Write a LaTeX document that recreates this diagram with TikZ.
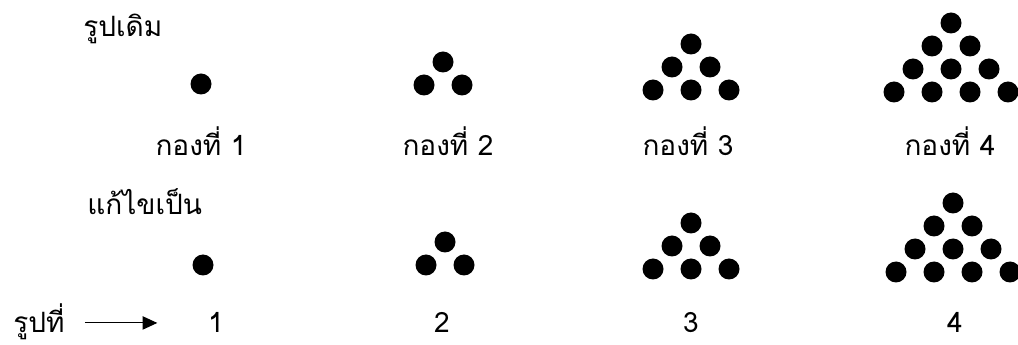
\documentclass[tikz,border=0pt]{standalone}
\usepackage{fontspec}
\newfontfamily\thaifont[Script=Thai]{Loma}
\usetikzlibrary{arrows.meta, positioning}

\begin{document}
\begin{tikzpicture}[
  x=0.75pt, y=-0.75pt,
  dot/.style={circle, fill=black, inner sep=0pt, minimum size=15.75pt},
  txt/.style={inner sep=0pt, font=\thaifont\fontsize{21}{25}\selectfont},
  arr/.style={-{Triangle[length=11pt, width=10pt]}, line width=0.8pt}
]
\useasboundingbox (0,0) rectangle (1018,345);

% Headings
\node[txt, anchor=base west] (orig) at (83,37) {รูปเดิม};
\node[txt, anchor=base west] (fixed) at (87,215) {แก้ไขเป็น};

% Original piles (top row)
\foreach \n/\cx/\by in {1/201/84, 2/443/85, 3/691/90, 4/951/92} {
  \foreach \r in {1,...,\n} {
    \foreach \k in {1,...,\r} {
      \node[dot] (o\n-\r-\k) at ({\cx+(\k-(\r+1)/2)*38}, {\by-(\n-\r)*23}) {};
    }
  }
}

% Pile labels
\node[txt, anchor=base] (lbl1) at (201,156) {กองที่ 1};
\node[txt, anchor=base] (lbl2) at (448,156) {กองที่ 2};
\node[txt, anchor=base] (lbl3) at (688,156) {กองที่ 3};
\node[txt, anchor=base] (lbl4) at (950,156) {กองที่ 4};

% Corrected piles (bottom row)
\foreach \n/\cx/\by in {1/203/265, 2/445/265, 3/691/269, 4/953/272} {
  \foreach \r in {1,...,\n} {
    \foreach \k in {1,...,\r} {
      \node[dot] (c\n-\r-\k) at ({\cx+(\k-(\r+1)/2)*38}, {\by-(\n-\r)*23}) {};
    }
  }
}

% Figure numbers
\node[txt, anchor=base west] (fig) at (13,333) {รูปที่};
\node[txt, anchor=base] (num1) at (216,333) {1};
\node[txt, anchor=base] (num2) at (442,333) {2};
\node[txt, anchor=base] (num3) at (691,333) {3};
\node[txt, anchor=base] (num4) at (955,333) {4};

% Arrow to the numbers
\draw[arr] ([xshift=15pt]fig.east |- num1.west) -- ([xshift=-38pt]num1.west);

\end{tikzpicture}
\end{document}
